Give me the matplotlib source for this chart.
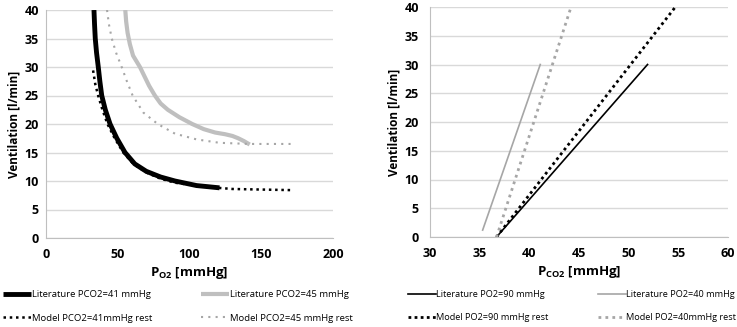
import matplotlib.pyplot as plt

plt.rcParams['font.family'] = ['Open Sans', 'DejaVu Sans']

# left panel: ventilation vs PO2
lit41_po2 = [33.6, 34.0, 34.5, 35.4, 36.6, 37.7, 39.0, 41.5, 44.8, 49.5, 55.2, 62.0, 70.0, 80.0, 90.0, 105.0, 121.0]
lit41_ve = [40.0, 37.5, 35.0, 32.5, 30.0, 27.5, 25.0, 22.5, 20.0, 17.5, 15.0, 13.0, 11.7, 10.7, 10.0, 9.2, 8.8]
mod41_po2 = [33.0, 34.5, 36.5, 39.5, 43.0, 48.0, 54.0, 61.0, 70.0, 80.0, 90.0, 110.0, 130.0, 150.0, 171.0]
mod41_ve = [29.4, 27.0, 25.0, 22.5, 20.0, 17.5, 15.0, 13.0, 11.5, 10.4, 9.7, 9.0, 8.6, 8.5, 8.4]
lit45_po2 = [55.4, 56.0, 57.0, 58.6, 60.8, 63.2, 65.6, 68.5, 72.0, 76.0, 80.0, 85.0, 93.0, 102.0, 110.0, 118.0,
             125.0, 130.0, 134.0, 138.0, 142.0]
lit45_ve = [40.0, 38.0, 36.0, 34.0, 32.0, 31.0, 30.0, 28.5, 26.7, 25.0, 23.6, 22.5, 21.2, 20.0, 19.1, 18.5,
            18.2, 17.9, 17.5, 17.0, 16.4]
mod45_po2 = [42.7, 44.0, 46.0, 49.0, 52.9, 56.5, 60.5, 68.0, 78.0, 90.0, 105.0, 121.0, 142.0, 173.0]
mod45_ve = [40.0, 37.5, 35.0, 32.5, 30.0, 27.5, 25.0, 22.0, 20.0, 18.3, 17.3, 16.7, 16.5, 16.5]

# right panel: ventilation vs PCO2
lit90_pco2 = [36.7, 51.9]
lit90_ve = [0.0, 30.0]
lit40_pco2 = [35.3, 41.1]
lit40_ve = [1.2, 30.0]
mod90_pco2 = [36.7, 54.7]
mod90_ve = [0.0, 40.0]
mod40_pco2 = [36.7, 44.2]
mod40_ve = [0.0, 40.0]

BLACK = '#000000'
LGRAY = '#bfbfbf'
MGRAY = '#a6a6a6'
W, H = 737, 327

fig = plt.figure(figsize=(W / 100, H / 100), dpi=100)
ax1 = fig.add_axes([45.7 / W, 1 - 238 / H, 287.3 / W, 228 / H])
ax2 = fig.add_axes([430 / W, 1 - 237 / H, 298 / W, 230 / H])

l1, = ax1.plot(lit41_po2, lit41_ve, color=BLACK, lw=3.5, solid_capstyle='butt', solid_joinstyle='round')
l2, = ax1.plot(lit45_po2, lit45_ve, color=LGRAY, lw=3.0, solid_capstyle='butt', solid_joinstyle='round')
l3, = ax1.plot(mod41_po2, mod41_ve, color=BLACK, lw=1.8, ls=(0, (1, 1.5)))
l4, = ax1.plot(mod45_po2, mod45_ve, color=MGRAY, lw=1.5, ls=(0, (1, 2.5)))

r1, = ax2.plot(lit90_pco2, lit90_ve, color=BLACK, lw=1.2)
r2, = ax2.plot(lit40_pco2, lit40_ve, color=MGRAY, lw=1.2)
r3, = ax2.plot(mod90_pco2, mod90_ve, color=BLACK, lw=2.0, ls=(0, (1, 1.2)))
r4, = ax2.plot(mod40_pco2, mod40_ve, color=MGRAY, lw=2.0, ls=(0, (1, 1.5)))

for ax, xlim, xticks, xlabel, ypad in [
        (ax1, (0, 200), range(0, 201, 50), 'P$_{\\mathregular{O2}}$ [mmHg]', 5),
        (ax2, (30, 60), range(30, 61, 5), 'P$_{\\mathregular{CO2}}$ [mmHg]', 8)]:
    ax.set_xlim(*xlim)
    ax.set_ylim(0, 40)
    ax.set_xticks(list(xticks))
    ax.set_yticks(range(0, 41, 5))
    ax.yaxis.grid(True, color='#d9d9d9', lw=1)
    ax.set_axisbelow(True)
    for s in ['top', 'right']:
        ax.spines[s].set_visible(False)
    for s in ['left', 'bottom']:
        ax.spines[s].set_color('#bfbfbf')
    ax.tick_params(length=0, labelsize=9)
    ax.tick_params(axis='x', pad=7)
    ax.tick_params(axis='y', pad=ypad)
    for lab in ax.get_xticklabels() + ax.get_yticklabels():
        lab.set_fontweight('bold')
    ax.set_xlabel(xlabel, fontsize=9.5, fontweight='bold', labelpad=3)
    ax.set_ylabel('Ventilation [l/min]', fontsize=8.5, fontweight='bold', labelpad=3)

def col_legend(handles, labels, x, y, size):
    fig.legend(handles, labels, loc='upper left', bbox_to_anchor=(x / W, 1 - y / H),
               frameon=False, fontsize=size, handlelength=3.0, handletextpad=0.1,
               labelspacing=1.55, borderaxespad=0, borderpad=0)

col_legend([l1, l3], ['Literature PCO2=41 mmHg', 'Model PCO2=41mmHg rest'], 3, 290, 6.8)
col_legend([l2, l4], ['Literature PCO2=45 mmHg', 'Model PCO2=45 mmHg rest'], 201, 290, 6.8)
col_legend([r1, r3], ['Literature PO2=90 mmHg', 'Model PO2=90 mmHg rest'], 408, 290, 6.6)
col_legend([r2, r4], ['Literature PO2=40 mmHg', 'Model PO2=40mmHg rest'], 598, 290, 6.6)

fig.savefig('out.png', dpi=100)
